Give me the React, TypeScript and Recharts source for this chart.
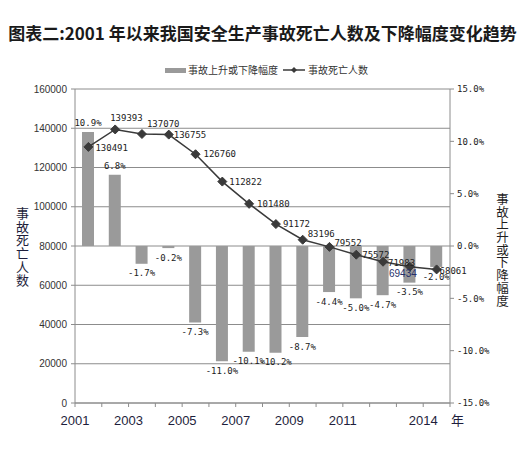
import React from 'react';
import {
  ComposedChart,
  Bar,
  Line,
  XAxis,
  YAxis,
  CartesianGrid,
  LabelList,
} from 'recharts';

const years = ['2001', '2002', '2003', '2004', '2005', '2006', '2007', '2008', '2009', '2010', '2011', '2012', '2013', '2014'];
const deaths = [130491, 139393, 137070, 136755, 126760, 112822, 101480, 91172, 83196, 79552, 75572, 71983, 69434, 68061];
const changePct = [10.9, 6.8, -1.7, -0.2, -7.3, -11.0, -10.1, -10.2, -8.7, -4.4, -5.0, -4.7, -3.5, -2.0];

const leftTicks = [0, 20000, 40000, 60000, 80000, 100000, 120000, 140000, 160000];
const rightTicks = [-15, -10, -5, 0, 5, 10, 15];
const xTickIdx = [0, 2, 4, 6, 8, 10, 13];
const xTickText = ['2001', '2003', '2005', '2007', '2009', '2011', '2014'];
const boundaryTicks = [0, 1, 2, 3, 4, 5, 6, 7, 8, 9, 10, 11, 12, 13, 14];

const titleText = '图表二:2001 年以来我国安全生产事故死亡人数及下降幅度变化趋势';
const barName = '事故上升或下降幅度';
const lineName = '事故死亡人数';
const leftTitle = '事故死亡人数';
const rightTitle = '事故上升或下降幅度';
const yearUnit = '年';

// label placement offsets (style only): [dx, dy, anchor]
const lineLabelPlace: [number, number, string][] = [
  [7, 1, 'start'],
  [-5, -12, 'start'],
  [5, -10, 'start'],
  [5, 0, 'start'],
  [8, 0, 'start'],
  [7, 0, 'start'],
  [8, 0, 'start'],
  [7, 0, 'start'],
  [5, -6, 'start'],
  [5, -4, 'start'],
  [6, 0, 'start'],
  [5, 1, 'start'],
  [7, 7, 'end'],
  [3, 1, 'start'],
];

const data = years.map((y, i) => ({ year: y, idx: i, deaths: deaths[i], pct: changePct[i] }));

const MONO = '"DejaVu Sans Mono", "Liberation Mono", monospace';
const SANS = 'Arial, "Liberation Sans", "Noto Sans CJK SC", sans-serif';
const CJK = '"Noto Sans CJK SC", sans-serif';

const Diamond = (props: any) => {
  const { cx, cy } = props;
  if (cx == null || cy == null) return null;
  const r = 4.5;
  return (
    <polygon
      points={`${cx},${cy - r} ${cx + r},${cy} ${cx},${cy + r} ${cx - r},${cy}`}
      fill="#3a3a3a"
      stroke="#3a3a3a"
    />
  );
};

const BarLabel = (props: any) => {
  const { x, y, width, height, value } = props;
  const top = Math.min(y, y + height);
  const bottom = Math.max(y, y + height);
  const cx = x + width / 2;
  const ty = value >= 0 ? top - 9 : bottom + 9.5;
  return (
    <text x={cx} y={ty} dy="0.35em" textAnchor="middle" fontSize={9} fontFamily={MONO} fill="#222">
      {`${Number(value).toFixed(1)}%`}
    </text>
  );
};

const LineLabel = (props: any) => {
  const { x, y, value, index } = props;
  const p = lineLabelPlace[index] || [5, 0, 'start'];
  const special = index === 12;
  return (
    <text
      x={x + p[0]}
      y={y + p[1]}
      dy="0.35em"
      textAnchor={p[2] as any}
      fontSize={special ? 10 : 9}
      fontFamily={special ? SANS : MONO}
      fill={special ? '#27306a' : '#222'}
    >
      {value}
    </text>
  );
};

export default function App() {
  return (
    <div style={{ position: 'absolute', left: 0, top: 0, width: 525, height: 471, background: '#fff' }}>
      <div
        style={{
          position: 'absolute',
          left: 0,
          top: 22,
          width: 525,
          textAlign: 'center',
          fontFamily: CJK,
          fontWeight: 700,
          fontSize: 17,
          lineHeight: '22px',
          color: '#1a1a1a',
          whiteSpace: 'nowrap',
        }}
      >
        {titleText}
      </div>

      {/* legend */}
      <div style={{ position: 'absolute', left: 165, top: 68, width: 21, height: 5, background: '#9a9a9a' }} />
      <div
        style={{
          position: 'absolute',
          left: 188,
          top: 63,
          fontFamily: CJK,
          fontSize: 10,
          lineHeight: '14px',
          color: '#333',
          whiteSpace: 'nowrap',
        }}
      >
        {barName}
      </div>
      <svg style={{ position: 'absolute', left: 281, top: 64 }} width={26} height={12}>
        <line x1={2} y1={6} x2={24} y2={6} stroke="#3a3a3a" strokeWidth={1.5} />
        <polygon points="13,3 16,6 13,9 10,6" fill="#3a3a3a" />
      </svg>
      <div
        style={{
          position: 'absolute',
          left: 308,
          top: 63,
          fontFamily: CJK,
          fontSize: 10,
          lineHeight: '14px',
          color: '#333',
          whiteSpace: 'nowrap',
        }}
      >
        {lineName}
      </div>

      {/* axis titles */}
      <div
        style={{
          position: 'absolute',
          left: 15,
          top: 207,
          width: 14,
          height: 82,
          fontFamily: CJK,
          fontSize: 13,
          lineHeight: '14px',
          letterSpacing: '0.3px',
          writingMode: 'vertical-rl',
          textOrientation: 'upright',
          color: '#1e1e3c',
        }}
      >
        {leftTitle}
      </div>
      <div
        style={{
          position: 'absolute',
          left: 495,
          top: 193,
          width: 14,
          height: 116,
          fontFamily: CJK,
          fontSize: 12.5,
          lineHeight: '14px',
          letterSpacing: '0.2px',
          writingMode: 'vertical-rl',
          textOrientation: 'upright',
          color: '#1e1e1e',
        }}
      >
        {rightTitle}
      </div>
      <div
        style={{
          position: 'absolute',
          left: 451,
          top: 411,
          fontFamily: CJK,
          fontSize: 13,
          lineHeight: '18px',
          color: '#1e1e3c',
        }}
      >
        {yearUnit}
      </div>

      <div style={{ position: 'absolute', left: 0, top: 0 }}>
        <ComposedChart
          width={525}
          height={471}
          data={data}
          margin={{ top: 89, right: 15, bottom: 38, left: 15 }}
          barCategoryGap="0%"
        >
          <CartesianGrid yAxisId="left" xAxisId="cat" vertical={false} stroke="#8c8c8c" strokeWidth={1} />
          <XAxis xAxisId="cat" dataKey="year" type="category" hide height={0} />
          <XAxis
            xAxisId="t"
            dataKey="idx"
            type="number"
            domain={[0, 'dataMax + 1']}
            allowDataOverflow
            ticks={boundaryTicks}
            interval={0}
            height={30}
            tickSize={4}
            tickMargin={9}
            stroke="#8c8c8c"
            tickFormatter={(v: number) => {
              const k = xTickIdx.indexOf(v);
              return k >= 0 ? xTickText[k] : '';
            }}
            tick={{ fontSize: 13, fontFamily: SANS, fill: '#1e1e3c' }}
          />
          <YAxis
            yAxisId="left"
            orientation="left"
            width={60}
            domain={[0, 160000]}
            ticks={leftTicks}
            interval={0}
            tickSize={4}
            tickMargin={4}
            stroke="#8c8c8c"
            tick={{ fontSize: 10, fontFamily: SANS, fill: '#333' }}
          />
          <YAxis
            yAxisId="right"
            orientation="right"
            width={60}
            domain={[-15, 15]}
            ticks={rightTicks}
            interval={0}
            tickSize={4}
            tickMargin={3}
            stroke="#8c8c8c"
            tickFormatter={(v: number) => `${v.toFixed(1)}%`}
            tick={{ fontSize: 9, fontFamily: MONO, fill: '#222' }}
          />
          <Bar
            xAxisId="cat"
            yAxisId="right"
            dataKey="pct"
            fill="#9a9a9a"
            barSize={12}
            isAnimationActive={false}
          >
            <LabelList dataKey="pct" content={<BarLabel />} />
          </Bar>
          <Line
            xAxisId="cat"
            yAxisId="left"
            dataKey="deaths"
            stroke="#3a3a3a"
            strokeWidth={1.5}
            dot={<Diamond />}
            activeDot={false}
            isAnimationActive={false}
          >
            <LabelList dataKey="deaths" content={<LineLabel />} />
          </Line>
        </ComposedChart>
      </div>
    </div>
  );
}
